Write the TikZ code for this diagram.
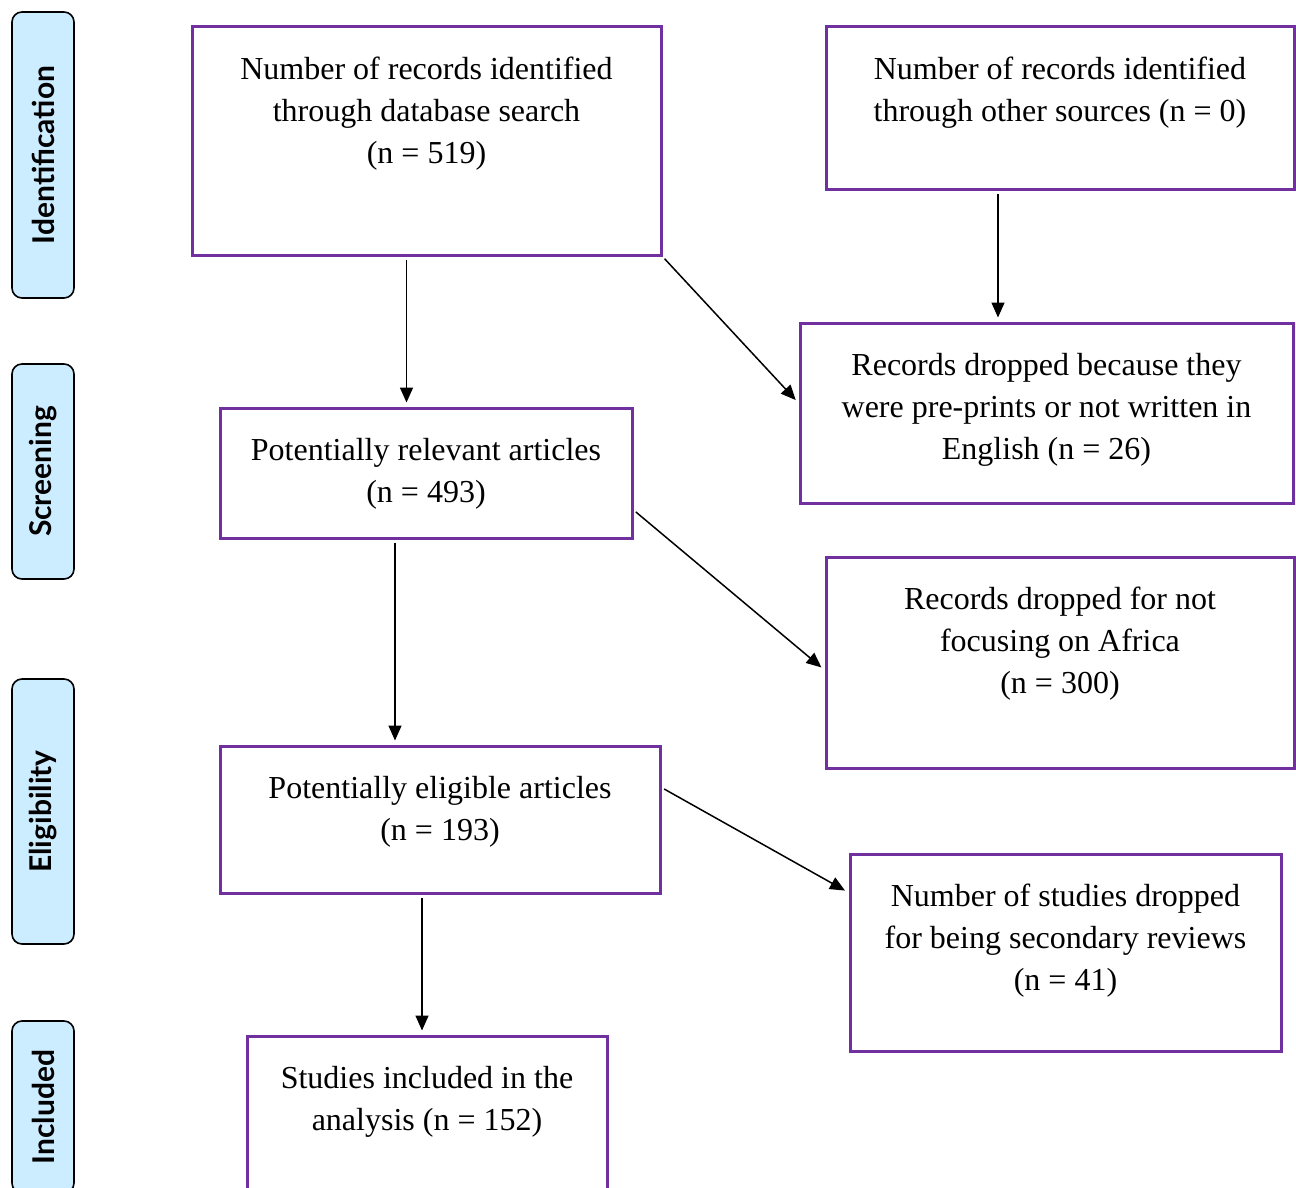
\documentclass[tikz,border=0pt]{standalone}
\usepackage{fontspec}
\setmainfont{Liberation Serif}
\newfontfamily\sidefont{Lato}
\usetikzlibrary{arrows.meta,fit}
\definecolor{boxpurple}{HTML}{7030A0}
\definecolor{sideblue}{HTML}{CCECFF}
\tikzset{
  box/.style={draw=boxpurple, line width=1.5pt, inner sep=0pt},
  txt/.style={align=center, inner sep=0pt, anchor=north, font=\fontsize{16}{21}\selectfont},
  side/.style={draw, line width=0.8pt, fill=sideblue, rounded corners=5pt, rotate=90,
    minimum height=31pt, font=\sidefont\bfseries\fontsize{15}{17}\selectfont},
  arr/.style={-{Triangle[length=7.5pt,width=6.5pt]}, line width=0.75pt, shorten <=1.5pt, shorten >=2pt}
}
\begin{document}
\begin{tikzpicture}[x=0.5pt,y=-0.5pt]
  \useasboundingbox (0,0) rectangle (1296,1188);

  %% phase labels
  \node[side, minimum width=143pt] (sid) at (43,155) {Identification};
  \node[side, minimum width=107.5pt] (sscr) at (43,471.5) {Screening};
  \node[side, minimum width=132.5pt] (selg) at (43,811.5) {Eligibility};
  \node[side, minimum width=86pt] (sinc) at (43,1107) {Included};

  %% boxes
  \node[box, fit={(192,27) (661,255)}] (db) {};
  \node[box, fit={(826,27) (1294,189)}] (other) {};
  \node[box, fit={(800,323) (1293,503)}] (pre) {};
  \node[box, fit={(220,408) (632,538)}] (rel) {};
  \node[box, fit={(826,557) (1294,768)}] (afr) {};
  \node[box, fit={(220,746) (660,893)}] (elig) {};
  \node[box, fit={(850,854) (1281,1051)}] (sec) {};
  \node[box, fit={(247,1036) (607,1200)}] (inc) {};

  %% texts
  \node[txt] (dbt) at ([yshift=-15.5pt]db.north) {Number of records identified\\through database search\\(n = 519)};
  \node[txt] (othert) at ([yshift=-15.5pt]other.north) {Number of records identified\\through other sources (n = 0)};
  \node[txt] (pret) at ([yshift=-15.5pt]pre.north) {Records dropped because they\\were pre-prints or not written in\\English (n = 26)};
  \node[txt] (relt) at ([yshift=-15.5pt]rel.north) {Potentially relevant articles\\(n = 493)};
  \node[txt] (afrt) at ([yshift=-15.5pt]afr.north) {Records dropped for not\\focusing on Africa\\(n = 300)};
  \node[txt] (eligt) at ([yshift=-15.5pt]elig.north) {Potentially eligible articles\\(n = 193)};
  \node[txt] (sect) at ([yshift=-15.5pt]sec.north) {Number of studies dropped\\for being secondary reviews\\(n = 41)};
  \node[txt] (inct) at ([yshift=-15.5pt]inc.north) {Studies included in the\\analysis (n = 152)};

  %% arrows
  \draw[arr] ([xshift=-10pt]db.south) -- ([xshift=-10pt]db.south |- rel.north);
  \draw[arr] (db.south east) -- ([yshift=5pt]pre.west);
  \draw[arr] ([xshift=-31pt]other.south) -- ([xshift=-31pt]other.south |- pre.north);
  \draw[arr] ([xshift=-15.5pt]rel.south) -- ([xshift=-15.5pt]rel.south |- elig.north);
  \draw[arr] ([yshift=-18.5pt]rel.east) -- ([yshift=-3.75pt]afr.west);
  \draw[arr] ([yshift=16pt]elig.east) -- ([yshift=30pt]sec.west);
  \draw[arr] ([xshift=-9pt]elig.south) -- ([xshift=-9pt]elig.south |- inc.north);

\end{tikzpicture}
\end{document}
